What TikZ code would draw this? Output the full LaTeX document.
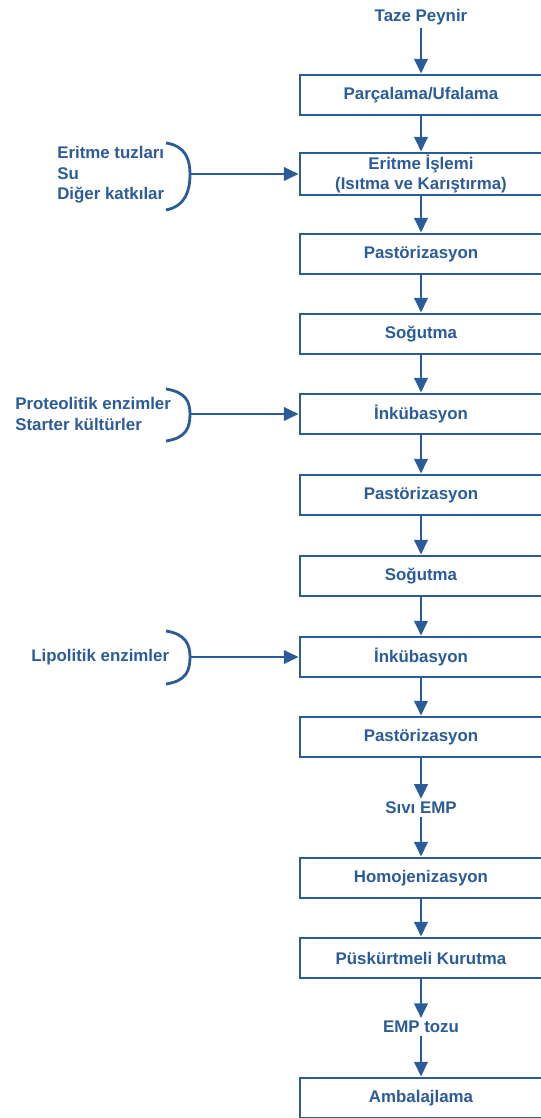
\documentclass[tikz,border=0pt]{standalone}
\usepackage{fontspec}
\setmainfont{Liberation Sans}
\usetikzlibrary{arrows.meta}
\definecolor{flowblue}{RGB}{44,92,152}

\begin{document}
\begin{tikzpicture}[
    x=0.025cm, y=-0.025cm,
    every node/.style={font=\fontsize{12}{14.5}\selectfont\bfseries, text=flowblue},
    stepbox/.style={draw=flowblue, line width=2pt, fill=white, minimum width=6.05cm,
                    minimum height=1cm, inner sep=0pt, align=center},
    flowtext/.style={inner sep=2pt},
    inputs/.style={align=left, anchor=west, inner sep=0pt},
    arrow/.style={-{Triangle[length=10.5pt,width=9.5pt]}, line width=2pt, draw=flowblue},
    bracket/.style={line width=2pt, draw=flowblue}
]
\useasboundingbox (0,0) rectangle (540,1118);

% Start
\node[flowtext] (taze) at (421,17) {Taze Peynir};

% Process steps
\node[stepbox] (b1) at (421,95) {Parçalama/Ufalama};
\node[stepbox, minimum height=1.05cm] (b2) at (421,174) {Eritme İşlemi\\(Isıtma ve Karıştırma)};
\node[stepbox] (b3) at (421,254) {Pastörizasyon};
\node[stepbox] (b4) at (421,334) {Soğutma};
\node[stepbox] (b5) at (421,414) {İnkübasyon};
\node[stepbox] (b6) at (421,495) {Pastörizasyon};
\node[stepbox] (b7) at (421,576) {Soğutma};
\node[stepbox] (b8) at (421,657) {İnkübasyon};
\node[stepbox] (b9) at (421,737) {Pastörizasyon};
\node[flowtext] (sivi) at (421,808) {Sıvı EMP};
\node[stepbox] (b10) at (421,878) {Homojenizasyon};
\node[stepbox] (b11) at (421,958) {Püskürtmeli Kurutma};
\node[flowtext] (toz) at (421,1027) {EMP tozu};
\node[stepbox] (b12) at (421,1098) {Ambalajlama};

% Main flow
\draw[arrow] (taze) -- (b1);
\draw[arrow] (b1) -- (b2);
\draw[arrow] (b2) -- (b3);
\draw[arrow] (b3) -- (b4);
\draw[arrow] (b4) -- (b5);
\draw[arrow] (b5) -- (b6);
\draw[arrow] (b6) -- (b7);
\draw[arrow] (b7) -- (b8);
\draw[arrow] (b8) -- (b9);
\draw[arrow] (b9) -- (sivi);
\draw[arrow] (sivi) -- (b10);
\draw[arrow] (b10) -- (b11);
\draw[arrow] (b11) -- (toz);
\draw[arrow] (toz) -- (b12);

% Input 1: melting
\node[inputs] (in1) at (57,175) {Eritme tuzları\\Su\\Diğer katkılar};
\coordinate (c1) at (190,174);
\draw[bracket] (166,143) .. controls (186,146) and (190,160) .. (c1)
    .. controls (190,190) and (186,206) .. (166,210);
\draw[arrow] (c1) -- (c1 -| b2.west);

% Input 2: proteolysis
\node[inputs] (in2) at (15,414) {Proteolitik enzimler\\Starter kültürler};
\coordinate (c2) at (190,414);
\draw[bracket] (166,389) .. controls (186,392) and (190,402) .. (c2)
    .. controls (190,428) and (186,438) .. (166,441);
\draw[arrow] (c2) -- (c2 -| b5.west);

% Input 3: lipolysis
\node[inputs] (in3) at (31,657) {Lipolitik enzimler};
\coordinate (c3) at (190,657);
\draw[bracket] (166,631) .. controls (186,634) and (190,645) .. (c3)
    .. controls (190,671) and (186,681) .. (166,684);
\draw[arrow] (c3) -- (c3 -| b8.west);

\end{tikzpicture}
\end{document}
